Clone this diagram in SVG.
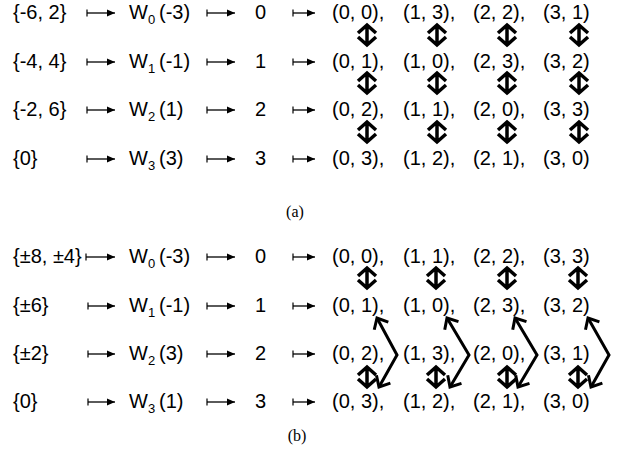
<svg xmlns="http://www.w3.org/2000/svg" width="624" height="467" viewBox="0 0 624 467">
<defs>
<style>
.t{font-family:"Liberation Sans",Arial,sans-serif;font-size:20px;fill:#000}
.s{font-size:13px}
.cap{font-family:"Liberation Serif","Times New Roman",serif;font-size:16px;fill:#000;text-anchor:middle}
.m{stroke:#000;stroke-width:1.3;fill:none;marker-start:url(#bar);marker-end:url(#tri)}
.z{stroke:#000;stroke-width:3;fill:none;stroke-linejoin:miter;marker-start:url(#chev);marker-end:url(#chev)}
.d{stroke:#000;stroke-width:3.5;fill:none;stroke-linejoin:miter}
</style>
<marker id="tri" markerUnits="userSpaceOnUse" orient="auto" refX="0" refY="0" markerWidth="10" markerHeight="10" overflow="visible"><path d="M0,0 L-8,-3.5 L-8,3.5 Z" fill="#000"/></marker>
<marker id="bar" markerUnits="userSpaceOnUse" orient="auto" refX="0" refY="0" markerWidth="10" markerHeight="10" overflow="visible"><path d="M0,-3.5 V3.5" stroke="#000" stroke-width="1.2"/></marker>
<marker id="chev" markerUnits="userSpaceOnUse" orient="auto-start-reverse" refX="0" refY="0" markerWidth="20" markerHeight="20" overflow="visible"><path d="M-9,-8 L0,0 L-9,8" stroke="#000" stroke-width="3" fill="none"/></marker>
<g id="dbl"><path class="d" d="M-9,-2 L0,-10 L9,-2 M0,-10 V10 M-9,2 L0,10 L9,2"/></g>
</defs>

<!-- (a) -->
<g id="a-row0" class="t">
<text x="13" y="19">{-6, 2}</text>
<text x="129" y="19">W<tspan class="s" dy="5">0</tspan><tspan x="159" dy="-5">(-3)</tspan></text>
<text x="255" y="19">0</text>
<text x="332" y="19">(0, 0),</text><text x="403" y="19">(1, 3),</text><text x="473" y="19">(2, 2),</text><text x="543" y="19">(3, 1)</text>
</g>
<g id="a-row1" class="t">
<text x="13" y="68">{-4, 4}</text>
<text x="129" y="68">W<tspan class="s" dy="5">1</tspan><tspan x="159" dy="-5">(-1)</tspan></text>
<text x="255" y="68">1</text>
<text x="332" y="68">(0, 1),</text><text x="403" y="68">(1, 0),</text><text x="473" y="68">(2, 3),</text><text x="543" y="68">(3, 2)</text>
</g>
<g id="a-row2" class="t">
<text x="13" y="116">{-2, 6}</text>
<text x="129" y="116">W<tspan class="s" dy="5">2</tspan><tspan x="159" dy="-5">(1)</tspan></text>
<text x="255" y="116">2</text>
<text x="332" y="116">(0, 2),</text><text x="403" y="116">(1, 1),</text><text x="473" y="116">(2, 0),</text><text x="543" y="116">(3, 3)</text>
</g>
<g id="a-row3" class="t">
<text x="13" y="165">{0}</text>
<text x="129" y="165">W<tspan class="s" dy="5">3</tspan><tspan x="159" dy="-5">(3)</tspan></text>
<text x="255" y="165">3</text>
<text x="332" y="165">(0, 3),</text><text x="403" y="165">(1, 2),</text><text x="473" y="165">(2, 1),</text><text x="543" y="165">(3, 0)</text>
</g>
<text id="cap-a" class="cap" x="295" y="217">(a)</text>

<!-- (b) -->
<g id="b-row0" class="t">
<text x="13" y="263">{±8, ±4}</text>
<text x="129" y="263">W<tspan class="s" dy="5">0</tspan><tspan x="159" dy="-5">(-3)</tspan></text>
<text x="255" y="263">0</text>
<text x="332" y="263">(0, 0),</text><text x="403" y="263">(1, 1),</text><text x="473" y="263">(2, 2),</text><text x="543" y="263">(3, 3)</text>
</g>
<g id="b-row1" class="t">
<text x="13" y="312">{±6}</text>
<text x="129" y="312">W<tspan class="s" dy="5">1</tspan><tspan x="159" dy="-5">(-1)</tspan></text>
<text x="255" y="312">1</text>
<text x="332" y="312">(0, 1),</text><text x="403" y="312">(1, 0),</text><text x="473" y="312">(2, 3),</text><text x="543" y="312">(3, 2)</text>
</g>
<g id="b-row2" class="t">
<text x="13" y="360">{±2}</text>
<text x="129" y="360">W<tspan class="s" dy="5">2</tspan><tspan x="159" dy="-5">(3)</tspan></text>
<text x="255" y="360">2</text>
<text x="332" y="360">(0, 2),</text><text x="403" y="360">(1, 3),</text><text x="473" y="360">(2, 0),</text><text x="543" y="360">(3, 1)</text>
</g>
<g id="b-row3" class="t">
<text x="13" y="408">{0}</text>
<text x="129" y="408">W<tspan class="s" dy="5">3</tspan><tspan x="159" dy="-5">(1)</tspan></text>
<text x="255" y="408">3</text>
<text x="332" y="408">(0, 3),</text><text x="403" y="408">(1, 2),</text><text x="473" y="408">(2, 1),</text><text x="543" y="408">(3, 0)</text>
</g>
<text id="cap-b" class="cap" x="297" y="441">(b)</text>

<g id="connectors">
<!-- maps-to arrows (a) -->
<path class="m" d="M87,13 H115"/><path class="m" d="M207,13 H235"/><path class="m" d="M293,13 H315"/>
<path class="m" d="M87,62 H115"/><path class="m" d="M207,62 H235"/><path class="m" d="M293,62 H315"/>
<path class="m" d="M87,110 H115"/><path class="m" d="M207,110 H235"/><path class="m" d="M293,110 H315"/>
<path class="m" d="M87,159 H115"/><path class="m" d="M207,159 H235"/><path class="m" d="M293,159 H315"/>
<!-- maps-to arrows (b) -->
<path class="m" d="M86,257 H115"/><path class="m" d="M207,257 H235"/><path class="m" d="M293,257 H315"/>
<path class="m" d="M88,306 H115"/><path class="m" d="M207,306 H235"/><path class="m" d="M293,306 H315"/>
<path class="m" d="M88,354 H115"/><path class="m" d="M207,354 H235"/><path class="m" d="M293,354 H315"/>
<path class="m" d="M88,402 H115"/><path class="m" d="M207,402 H235"/><path class="m" d="M293,402 H315"/>
<!-- double arrows (a) -->
<use href="#dbl" x="367" y="35"/><use href="#dbl" x="437" y="35"/><use href="#dbl" x="507" y="35"/><use href="#dbl" x="579" y="35"/>
<use href="#dbl" x="367" y="83"/><use href="#dbl" x="437" y="83"/><use href="#dbl" x="507" y="83"/><use href="#dbl" x="579" y="83"/>
<use href="#dbl" x="367" y="132"/><use href="#dbl" x="437" y="132"/><use href="#dbl" x="507" y="132"/><use href="#dbl" x="579" y="132"/>
<!-- double arrows (b) -->
<use href="#dbl" x="367" y="278"/><use href="#dbl" x="436" y="278"/><use href="#dbl" x="507" y="278"/><use href="#dbl" x="578" y="278"/>
<use href="#dbl" x="367" y="377"/><use href="#dbl" x="436" y="377"/><use href="#dbl" x="507" y="377"/><use href="#dbl" x="578" y="377"/>
<!-- zigzag arrows (b) -->
<path class="z" d="M377,318 L397,355 L379,387"/>
<path class="z" d="M447,318 L469,355 L450,387"/>
<path class="z" d="M515,318 L537,355 L518,387"/>
<path class="z" d="M588,318 L609,355 L591,387"/>
</g>
</svg>
